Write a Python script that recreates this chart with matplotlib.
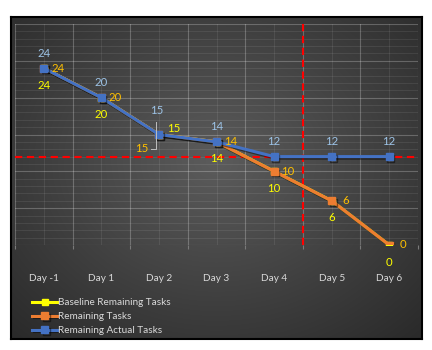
import numpy as np
import matplotlib
matplotlib.use("Agg")
import matplotlib.pyplot as plt
import matplotlib.patheffects as pe
from matplotlib.lines import Line2D

plt.rcParams['font.family'] = ['Lato', 'DejaVu Sans']

days = ['Day -1', 'Day 1', 'Day 2', 'Day 3', 'Day 4', 'Day 5', 'Day 6']
baseline = [24, 20, 15, 14, 10, 6, 0]
remaining = [24, 20, 15, 14, 10, 6, 0]
actual = [24, 20, 15, 14, 12, 12, 12]
target_level = 12
cutoff_pos = 4.5

BLUE = '#4472C4'
ORANGE = '#ED7D31'
YELLOW = '#FFFF00'
GOLD = '#FFC000'
LBLUE = '#9DC3E6'
TXT = '#D9D9D9'

fig = plt.figure(figsize=(4.32, 3.5), dpi=100)
W, H = 432, 350

# dark radial background for the chart area
bg = fig.add_axes([11 / W, 1 - 339 / H, 411 / W, 322 / H], zorder=0)
gx, gy = np.meshgrid(np.linspace(-1, 1, 400), np.linspace(-1, 1, 320))
r = np.sqrt((gx / 1.05) ** 2 + ((gy + 0.1) / 1.1) ** 2)
shade = 0.36 - 0.2 * np.clip(r, 0, 1.4) / 1.4
bg.imshow(np.dstack([shade] * 3), aspect='auto', extent=[0, 1, 0, 1], interpolation='bilinear')
bg.set_xticks([])
bg.set_yticks([])
for s in bg.spines.values():
    s.set_color('black')
    s.set_linewidth(1.5)

ax = fig.add_axes([15 / W, 1 - 245 / H, 403 / W, 221 / H], zorder=1)
ax.patch.set_alpha(0)
x = np.arange(len(days))
ax.set_xlim(-0.5, len(days) - 0.5)
ax.set_ylim(0, 30)

ax.set_xticks(np.arange(-0.5, len(days)), minor=False)
ax.set_xticklabels([])
ax.set_xticks(x, minor=True)
ax.set_xticklabels(days, minor=True)
ax.tick_params(axis='x', which='major', length=3, color='#7a7a7a', width=0.8)
ax.tick_params(axis='x', which='minor', length=0, pad=21, labelsize=7.2, labelcolor=TXT)
ax.set_yticks(np.arange(0, 31, 5))
ax.set_yticks(np.arange(0, 31, 1), minor=True)
ax.tick_params(axis='y', which='both', length=0, labelleft=False)
ax.grid(which='major', color='white', alpha=0.24, lw=0.8)
ax.grid(which='minor', color='white', alpha=0.08, lw=0.8)
for s in ax.spines.values():
    s.set_visible(False)
ax.set_axisbelow(True)

# red reference lines
ax.axhline(target_level, color='#FF0000', lw=1.5, dashes=(3.5, 2.2), zorder=2)
ax.axvline(cutoff_pos, color='#FF0000', lw=1.5, dashes=(3.5, 2.2), zorder=2)

shadow = [pe.SimpleLineShadow(offset=(1.2, -1.2), shadow_color='black', alpha=0.45), pe.Normal()]
ax.plot(x, baseline, color=YELLOW, lw=2.2, marker='s', ms=5, zorder=3,
        label='Baseline Remaining Tasks')
ax.plot(x, remaining, color=ORANGE, lw=2.2, marker='s', ms=5, zorder=4,
        label='Remaining Tasks', path_effects=shadow)
ax.plot(x, actual, color=BLUE, lw=2.2, marker='s', ms=5, zorder=5,
        label='Remaining Actual Tasks', path_effects=shadow)


def put(i, val, dx, dy, text, color):
    # offsets are in pixels at 100 dpi
    ax.annotate(text, (i, val), xytext=(dx * 0.72, dy * 0.72), textcoords='offset points',
                ha='center', va='center', fontsize=8.2, color=color, zorder=6)


for i, v in enumerate(actual):
    if i == 2:
        put(i, v, -2, 24, str(v), LBLUE)
    else:
        put(i, v, 0, 15, str(v), LBLUE)

for i, v in enumerate(remaining):
    if i == 2:
        put(i, v, -17, -14, str(v), GOLD)
    else:
        put(i, v, 14, 0, str(v), GOLD)

for i, v in enumerate(baseline):
    if i == 2:
        put(i, v, 15, 6, str(v), YELLOW)
    else:
        put(i, v, 0, -17, str(v), YELLOW)

# leader line for the moved label on Day 2
lead = [(-8, -14), (-3, -14), (-3, 13)]
px, py = ax.transData.transform((2, baseline[2]))
fig.add_artist(Line2D([px + p[0] for p in lead], [py + p[1] for p in lead],
                      color='#BFBFBF', lw=0.7, transform=None, zorder=6))

fig.legend(loc='upper left', bbox_to_anchor=(28 / W, 1 - 294 / H), frameon=False,
           fontsize=7.2, labelcolor=TXT, handlelength=2.5, handletextpad=0.1,
           labelspacing=0.5, borderaxespad=0)

fig.savefig('out.png', dpi=100)
